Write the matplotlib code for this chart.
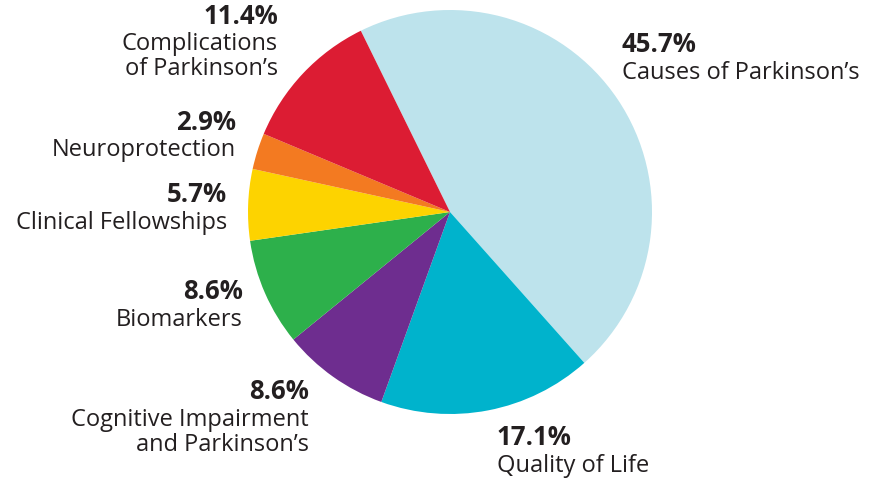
import matplotlib
matplotlib.use("Agg")
from matplotlib import pyplot as plt

# data (clockwise from the top-left boundary)
categories = ["Causes of Parkinson\u2019s", "Quality of Life",
              "Cognitive Impairment\nand Parkinson\u2019s", "Biomarkers",
              "Clinical Fellowships", "Neuroprotection",
              "Complications\nof Parkinson\u2019s"]
shares = [45.7, 17.1, 8.6, 8.6, 5.7, 2.9, 11.4]
colors = ["#BDE3EC", "#00B3CC", "#6E2D8F", "#2DB04B", "#FDD300", "#F37A21", "#DC1C33"]

# label anchors in figure pixels: (x, y of percent line, alignment)
label_pos = [(622, 45, "left"), (497, 438, "left"), (309, 392, "right"),
             (243, 292, "right"), (227, 195, "right"), (236, 122, "right"),
             (278, 16, "right")]

W, H = 880, 485
fig = plt.figure(figsize=(W / 100, H / 100), dpi=100)
cx, cy, r = 450, 213, 202
ax = fig.add_axes([(cx - r) / W, (H - cy - r) / H, 2 * r / W, 2 * r / H])
ax.pie(shares, colors=colors, startangle=116.2, counterclock=False,
       radius=1, wedgeprops=dict(linewidth=0))
ax.set_xlim(-1, 1)
ax.set_ylim(-1, 1)
ax.set_aspect("equal")
ax.axis("off")

txt = "#231F20"
for name, val, (x, y, ha) in zip(categories, shares, label_pos):
    fig.text(x / W, 1 - y / H, "%.1f%%" % val, ha=ha, va="center",
             fontsize=18.5, fontweight="bold", color=txt, family="Open Sans")
    fig.text(x / W, 1 - (y + 16) / H, name, ha=ha, va="top",
             fontsize=17, color=txt, family="Open Sans", linespacing=1.08)

fig.savefig("out.png", dpi=100)
